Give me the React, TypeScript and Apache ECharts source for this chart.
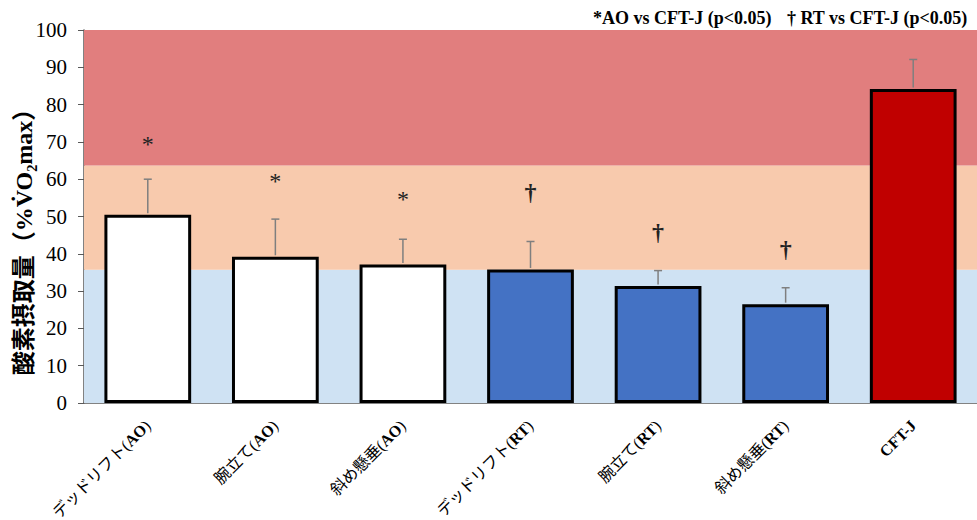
import React, { useEffect, useRef } from "react";
import * as echarts from "echarts";

const categories = [
  "デッドリフト({b|AO})",
  "腕立て({b|AO})",
  "斜め懸垂({b|AO})",
  "デッドリフト({b|RT})",
  "腕立て({b|RT})",
  "斜め懸垂({b|RT})",
  "{b|CFT-J}",
];
const means = [50.5, 39.2, 37.1, 35.8, 31.4, 26.5, 84.2];
const sdUpper = [9.5, 10.1, 6.8, 7.5, 4.1, 4.4, 7.9];
const barColors = ["#FFFFFF", "#FFFFFF", "#FFFFFF", "#4472C4", "#4472C4", "#4472C4", "#C00000"];
const markSymbols = ["*", "*", "*", "†", "†", "†", ""];
const markValues = [70.5, 60.5, 55.8, 56.6, 45.9, 41.3, 0];
const bandLimits = [0, 35.7, 63.7, 100];
const bandColors = ["#CFE2F3", "#F8CAAD", "#E17E7E"];
const yTicks = [0, 10, 20, 30, 40, 50, 60, 70, 80, 90, 100];
const noteTexts = ["*AO vs CFT-J (p<0.05)", "† RT vs CFT-J (p<0.05)"];
const yAxisTitle = "酸素摂取量（%V̇O₂max）";

const SERIF = "'Liberation Serif', 'Times New Roman', 'Noto Sans CJK JP', serif";

export default function App() {
  const ref = useRef<HTMLDivElement>(null);
  useEffect(() => {
    if (!ref.current) return;
    const chart = echarts.init(ref.current, undefined, { renderer: "svg" });
    const bands = bandColors.map((c, i) => [
      { yAxis: bandLimits[i], itemStyle: { color: c, opacity: 1 } },
      { yAxis: bandLimits[i + 1] },
    ]);
    chart.setOption({
      animation: false,
      grid: {
        left: 84,
        right: 0,
        top: 30,
        bottom: 117,
        containLabel: false,
        outerBoundsMode: "none",
      },
      graphic: [
        {
          type: "text",
          left: 593,
          top: 9,
          style: { text: noteTexts[0], font: `bold 18px ${SERIF}`, fill: "#000" },
        },
        {
          type: "text",
          left: 787,
          top: 9,
          style: { text: noteTexts[1], font: `bold 18px ${SERIF}`, fill: "#000" },
        },
        {
          type: "text",
          x: 24,
          y: 236,
          rotation: Math.PI / 2,
          style: {
            text: yAxisTitle,
            font: `bold 24px ${SERIF}`,
            fill: "#000",
            align: "center",
            verticalAlign: "middle",
          },
        },
      ],
      xAxis: {
        type: "category",
        data: categories,
        axisLine: { show: true, lineStyle: { color: "#595959", width: 1.5 } },
        axisTick: { show: false },
        axisLabel: {
          rotate: 45,
          interval: 0,
          margin: 20,
          fontFamily: SERIF,
          fontSize: 16,
          color: "#000",
          rich: { b: { fontWeight: "bold", fontFamily: SERIF, fontSize: 16, color: "#000" } },
        },
      },
      yAxis: {
        type: "value",
        min: 0,
        max: 100,
        interval: 10,
        axisLine: { show: true, lineStyle: { color: "#595959", width: 1.5 } },
        axisTick: { show: true, length: 6, lineStyle: { color: "#595959" } },
        splitLine: { show: false },
        axisLabel: {
          margin: 17,
          fontFamily: SERIF,
          fontSize: 21,
          color: "#000",
          formatter: (v: number) => (yTicks.includes(v) ? String(v) : ""),
        },
      },
      series: [
        {
          type: "line",
          data: [],
          z: 0,
          silent: true,
          markArea: { silent: true, data: bands },
        },
        {
          type: "bar",
          z: 2,
          barWidth: "68%",
          data: means.map((v, i) => ({
            value: v,
            itemStyle: { color: barColors[i], borderColor: "#000", borderWidth: 3 },
          })),
        },
        {
          type: "custom",
          z: 3,
          data: means.map((v, i) => [i, v, v + sdUpper[i]]),
          renderItem: (params: any, api: any) => {
            const i = api.value(0);
            const p0 = api.coord([i, api.value(1)]);
            const p1 = api.coord([i, api.value(2)]);
            const style = { stroke: "#7F7F7F", lineWidth: 1.5 };
            return {
              type: "group",
              children: [
                { type: "line", shape: { x1: p0[0], y1: p0[1] - 1.5, x2: p1[0], y2: p1[1] }, style },
                { type: "line", shape: { x1: p1[0] - 4, y1: p1[1], x2: p1[0] + 4, y2: p1[1] }, style },
              ],
            };
          },
        },
        {
          type: "custom",
          z: 4,
          data: markValues.map((v, i) => [i, v]),
          renderItem: (params: any, api: any) => {
            const i = api.value(0);
            const s = markSymbols[i];
            if (!s) return null;
            const p = api.coord([i, api.value(1)]);
            const isStar = s === "*";
            return {
              type: "text",
              x: p[0],
              y: p[1] + (isStar ? 4 : 0),
              style: {
                text: s,
                font: isStar ? `24px ${SERIF}` : `bold 24px ${SERIF}`,
                fill: "#222",
                align: "center",
                verticalAlign: "middle",
              },
            };
          },
        },
      ],
    });
    return () => chart.dispose();
  }, []);
  return (
    <div
      ref={ref}
      style={{ position: "fixed", left: 0, top: 0, width: 977, height: 520, background: "#fff" }}
    />
  );
}
